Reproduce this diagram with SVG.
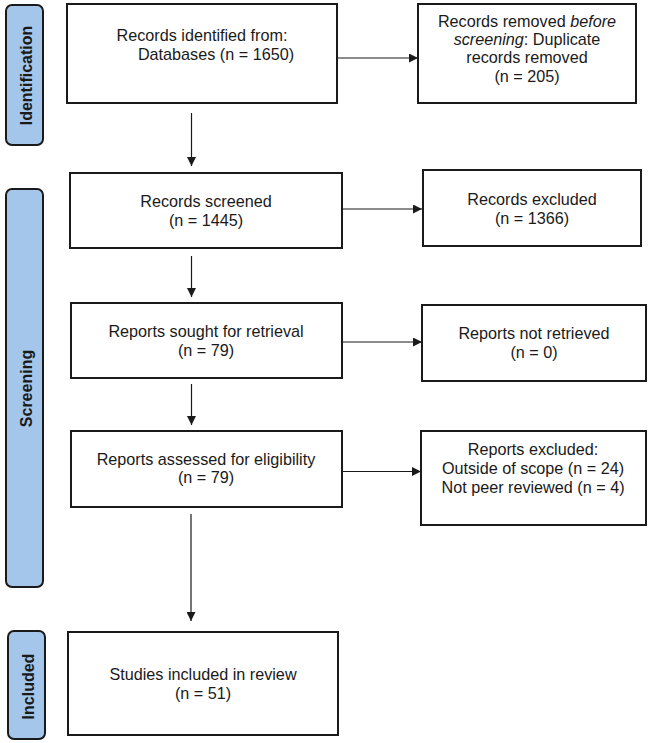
<svg xmlns="http://www.w3.org/2000/svg" width="649" height="743" viewBox="0 0 649 743">
<defs>
<style>
.box{fill:#fff;stroke:#1a1a1a;stroke-width:2}
.side{fill:#a4c6ea;stroke:#1a1a1a;stroke-width:2}
.t{font-family:"Liberation Sans",Arial,sans-serif;font-size:16.2px;fill:#1a1a1a;text-anchor:middle}
.s{font-family:"Liberation Sans",Arial,sans-serif;font-size:16px;font-weight:bold;fill:#1a1a1a;text-anchor:middle}
.c{stroke:#1a1a1a;stroke-width:1.2;fill:none;marker-end:url(#ah)}
</style>
<marker id="ah" viewBox="0 0 10 10" refX="10" refY="5" markerWidth="9" markerHeight="9" markerUnits="userSpaceOnUse" orient="auto">
<path d="M0,0 L10,5 L0,10 z" fill="#1a1a1a"/>
</marker>
</defs>
<rect width="649" height="743" fill="#fff"/>
<g id="phase-identification">
<rect class="side" x="6" y="5" width="37" height="140" rx="6"/>
<text class="s" transform="translate(31.5,75.5) rotate(-90)">Identification</text>
</g>
<g id="phase-screening">
<rect class="side" x="6" y="189" width="37" height="398" rx="6"/>
<text class="s" transform="translate(31.5,388.5) rotate(-90)">Screening</text>
</g>
<g id="phase-included">
<rect class="side" x="8" y="631" width="37" height="108" rx="6"/>
<text class="s" transform="translate(33.5,686.5) rotate(-90)">Included</text>
</g>
<g id="connectors">
<line class="c" x1="337" y1="58" x2="418" y2="58"/>
<line class="c" x1="191.5" y1="113" x2="191.5" y2="166"/>
<line class="c" x1="342" y1="209" x2="422" y2="209"/>
<line class="c" x1="191.5" y1="256" x2="191.5" y2="297"/>
<line class="c" x1="342" y1="342" x2="422" y2="342"/>
<line class="c" x1="191.5" y1="384" x2="191.5" y2="425"/>
<line class="c" x1="342" y1="471.5" x2="421" y2="471.5"/>
<line class="c" x1="191" y1="514" x2="191" y2="621"/>
</g>
<g id="n-identified">
<rect class="box" x="67" y="4" width="270" height="99"/>
<text class="t" x="202" y="41">Records identified from:</text>
<text class="t" x="216" y="60">Databases (n = 1650)</text>
</g>
<g id="n-removed">
<rect class="box" x="418" y="4" width="218" height="99"/>
<text class="t" x="527" y="27">Records removed <tspan font-style="italic">before</tspan></text>
<text class="t" x="527" y="45"><tspan font-style="italic">screening</tspan>: Duplicate</text>
<text class="t" x="527" y="63">records removed</text>
<text class="t" x="527" y="82">(n = 205)</text>
</g>
<g id="n-screened">
<rect class="box" x="70" y="173" width="272" height="75"/>
<text class="t" x="206" y="207">Records screened</text>
<text class="t" x="206" y="226">(n = 1445)</text>
</g>
<g id="n-excluded">
<rect class="box" x="423" y="170" width="218" height="76"/>
<text class="t" x="532" y="205">Records excluded</text>
<text class="t" x="532" y="224">(n = 1366)</text>
</g>
<g id="n-sought">
<rect class="box" x="71" y="303" width="271" height="75"/>
<text class="t" x="206" y="337">Reports sought for retrieval</text>
<text class="t" x="206" y="356">(n = 79)</text>
</g>
<g id="n-notretrieved">
<rect class="box" x="422" y="305" width="224" height="76"/>
<text class="t" x="534" y="339">Reports not retrieved</text>
<text class="t" x="534" y="358">(n = 0)</text>
</g>
<g id="n-assessed">
<rect class="box" x="71" y="431" width="271" height="76"/>
<text class="t" x="206" y="465">Reports assessed for eligibility</text>
<text class="t" x="206" y="483">(n = 79)</text>
</g>
<g id="n-reportsexcluded">
<rect class="box" x="421" y="431" width="225" height="94"/>
<text class="t" x="533" y="455">Reports excluded:</text>
<text class="t" x="533" y="474">Outside of scope (n = 24)</text>
<text class="t" x="533" y="493">Not peer reviewed (n = 4)</text>
</g>
<g id="n-included">
<rect class="box" x="68" y="632" width="270" height="103"/>
<text class="t" x="203" y="680">Studies included in review</text>
<text class="t" x="203" y="699">(n = 51)</text>
</g>
</svg>
